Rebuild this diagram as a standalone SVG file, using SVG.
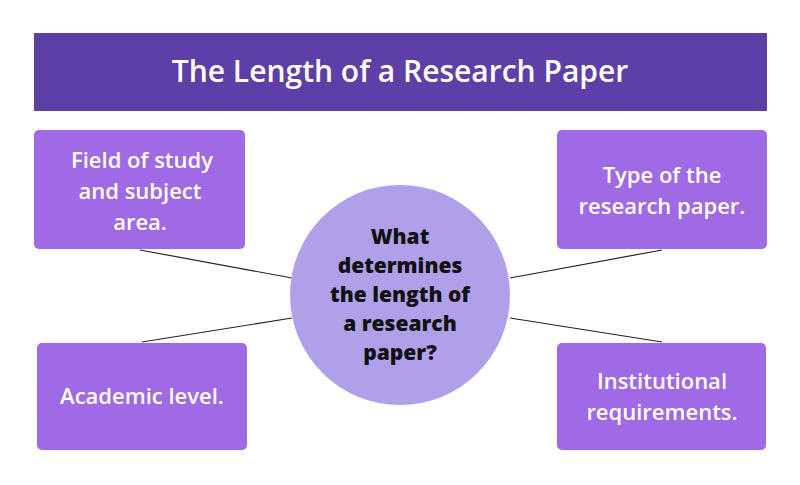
<svg xmlns="http://www.w3.org/2000/svg" width="800" height="485" viewBox="0 0 800 485">
<style>
.box{fill:#a06ae6}
.t{font-family:"Open Sans","Liberation Sans",sans-serif;font-weight:600;font-size:22px;fill:#fff;text-anchor:middle}
.c{font-family:"Open Sans","Liberation Sans",sans-serif;font-weight:800;font-size:21px;fill:#111;text-anchor:middle}
</style>
<rect width="800" height="485" fill="#fff"/>
<g id="title"><rect x="34" y="33" width="733" height="78" fill="#5e3fa8"/>
<text x="400" y="82" class="t" style="font-size:30px">The Length of a Research Paper</text></g>
<g id="connectors" stroke="#222" stroke-width="1.2">
<line x1="140" y1="250" x2="292" y2="278"/><line x1="142" y1="342" x2="292" y2="318"/>
<line x1="510" y1="278" x2="662" y2="250"/><line x1="510" y1="318" x2="662" y2="342"/>
</g>
<g id="center"><circle cx="400" cy="295" r="110" fill="#b0a0ea"/>
<text class="c"><tspan x="400" y="244">What</tspan><tspan x="400" y="273">determines</tspan><tspan x="400" y="302">the length of</tspan><tspan x="400" y="331">a research</tspan><tspan x="400" y="360">paper?</tspan></text></g>
<g id="n1"><rect class="box" x="34" y="130" width="211" height="119" rx="5"/>
<text class="t"><tspan x="142" y="168">Field of study</tspan><tspan x="140" y="199">and subject</tspan><tspan x="140" y="230">area.</tspan></text></g>
<g id="n2"><rect class="box" x="557" y="130" width="210" height="119" rx="5"/>
<text class="t"><tspan x="662" y="183">Type of the</tspan><tspan x="662" y="214">research paper.</tspan></text></g>
<g id="n3"><rect class="box" x="37" y="343" width="210" height="107" rx="5"/>
<text class="t"><tspan x="142" y="404">Academic level.</tspan></text></g>
<g id="n4"><rect class="box" x="557" y="343" width="209" height="107" rx="5"/>
<text class="t"><tspan x="662" y="389">Institutional</tspan><tspan x="662" y="420">requirements.</tspan></text></g>
</svg>
